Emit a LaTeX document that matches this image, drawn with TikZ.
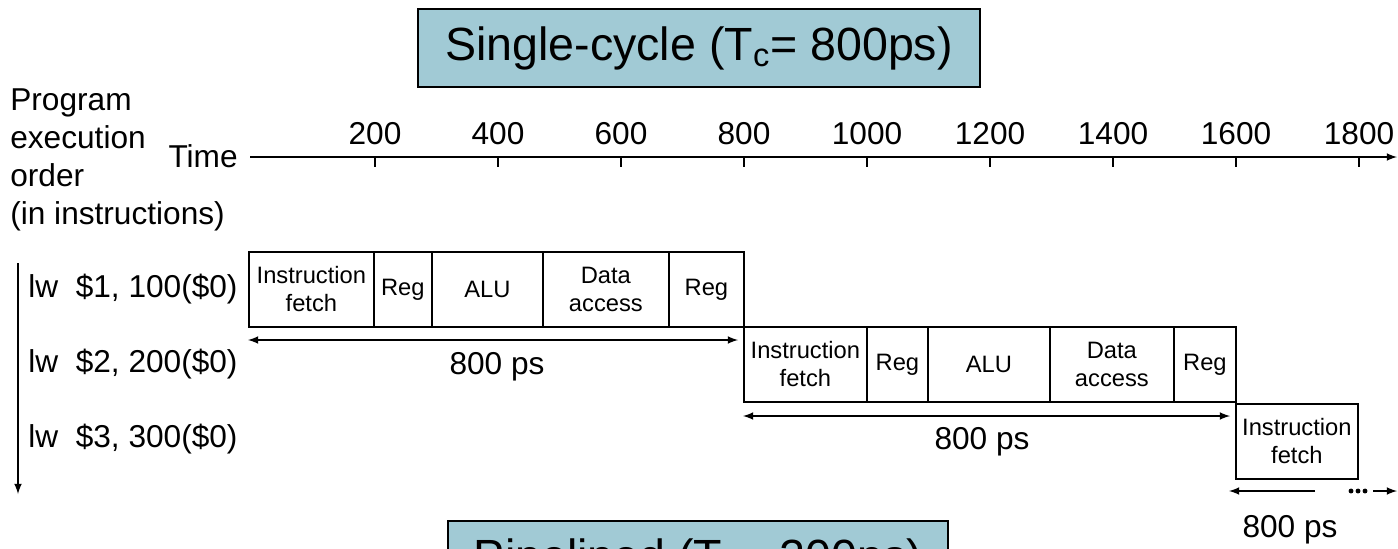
\documentclass[tikz,border=0pt]{standalone}
\usepackage{fontspec}
\setmainfont{Liberation Sans}
\usepackage{tikz}

% colour of the heading box
\definecolor{cycleblue}{RGB}{161,202,213}

\tikzset{
  % one pipeline stage of an instruction
  stage/.style={draw=black, line width=1pt, anchor=north west, inner sep=0pt, align=center,
    minimum height=1.5cm, font=\fontsize{13.5}{16}\selectfont},
  % heading boxes
  headbox/.style={draw=black, line width=1pt, fill=cycleblue, minimum height=1.56cm,
    font=\fontsize{26.5}{30}\selectfont},
  % ordinary labels
  plain/.style={draw=none, inner sep=0pt, font=\fontsize{18}{21.5}\selectfont},
  % arrows
  timeline/.style={-latex, line width=1pt},
  span/.style={latex-latex, line width=1pt}
}

\begin{document}
\begin{tikzpicture}[x=0.02cm, y=-0.02cm]
% the picture is 1398 x 548 units, measured from the top left corner
\useasboundingbox (0,0) rectangle (1398,548);
\clip (0,0) rectangle (1398,548);

% Heading boxes (the lower one runs off the bottom of the page)
\node[headbox, minimum width=11.24cm] (single) at (699,48) {Single-cycle (T\textsubscript{c}= 800ps)};
\node[headbox, minimum width=10cm] (pipe) at (698,560) {Pipelined (T\textsubscript{c}= 200ps)};

% Axis labels
\node[plain, align=left, anchor=west] (order) at (10,160) {Program\\execution\\order\\(in instructions)};
\node[plain, anchor=east] (time) at (238,156) {Time};

% Time axis with its ticks
\coordinate (T0) at (250,157);
\coordinate (T1) at (1397,157);
\draw[timeline] (T0) -- (T1);
\foreach \t/\x in {200/375, 400/498, 600/621, 800/744, 1000/867, 1200/990, 1400/1113, 1600/1236, 1800/1359} {
  \draw[line width=1pt] (\x,157) -- (\x,167);
  \node[plain] (tick\t) at (\x,134) {\t};
}

% Program order arrow
\coordinate (O0) at (18,263);
\coordinate (O1) at (18,494);
\draw[timeline] (O0) -- (O1);

% Instructions
\node[plain, anchor=west] (lw1) at (28,289) {lw~~\$1, 100(\$0)};
\node[plain, anchor=west] (lw2) at (28,364) {lw~~\$2, 200(\$0)};
\node[plain, anchor=west] (lw3) at (28,439) {lw~~\$3, 300(\$0)};

% First instruction
\node[stage, minimum width=2.5cm] (ifA) at (248,251) {Instruction\\fetch};
\node[stage, minimum width=1.16cm] (rgA) at (373,251) {Reg};
\node[stage, minimum width=2.22cm] (aluA) at (431,251) {ALU};
\node[stage, minimum width=2.52cm] (dmA) at (542,251) {Data\\access};
\node[stage, minimum width=1.5cm] (wbA) at (668,251) {Reg};

% Second instruction
\node[stage, minimum width=2.46cm] (ifB) at (743,326) {Instruction\\fetch};
\node[stage, minimum width=1.22cm] (rgB) at (866,326) {Reg};
\node[stage, minimum width=2.44cm] (aluB) at (927,326) {ALU};
\node[stage, minimum width=2.48cm] (dmB) at (1049,326) {Data\\access};
\node[stage, minimum width=1.24cm] (wbB) at (1173,326) {Reg};

% Third instruction
\node[stage, minimum width=2.44cm] (ifC) at (1235,403) {Instruction\\fetch};

% Cycle lengths
\coordinate (A0) at (248,340);
\coordinate (A1) at (738,340);
\draw[span] (A0) -- (A1);
\node[plain] (psA) at (497,367) {800 ps};

\coordinate (B0) at (743,416);
\coordinate (B1) at (1230,416);
\draw[span] (B0) -- (B1);
\node[plain] (psB) at (982,442) {800 ps};

\coordinate (C0) at (1315,491);
\coordinate (C1) at (1229,491);
\coordinate (C2) at (1373,491);
\coordinate (C3) at (1397,491);
\draw[timeline] (C0) -- (C1);
\fill (1351,491) circle (1.4pt) (1358,491) circle (1.4pt) (1365,491) circle (1.4pt);
\draw[timeline] (C2) -- (C3);
\node[plain] (psC) at (1290,530) {800 ps};
\end{tikzpicture}
\end{document}
